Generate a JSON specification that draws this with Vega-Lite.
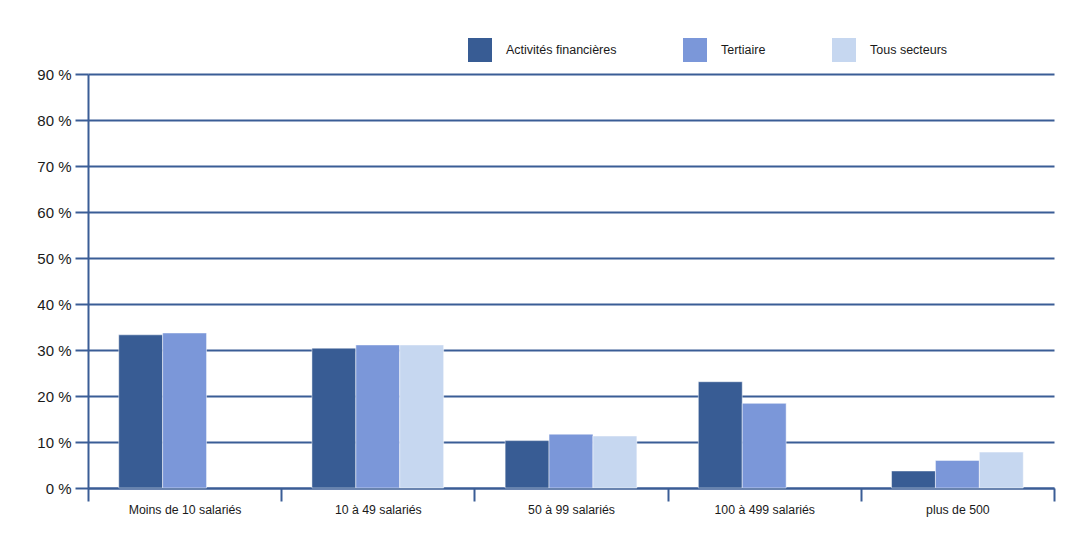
{
  "$schema": "https://vega.github.io/schema/vega-lite/v6.json",
  "width": 966,
  "height": 414,
  "autosize": {"type": "none"},
  "padding": {"left": 88, "top": 74, "right": 33, "bottom": 58},
  "background": "white",
  "config": {"font": "Liberation Sans", "view": {"stroke": null}},
  "data": {
    "values": [
      {"taille": "Moins de 10 salariés", "secteur": "Activités financières", "valeur": 33.3},
      {"taille": "Moins de 10 salariés", "secteur": "Tertiaire", "valeur": 33.7},
      {"taille": "10 à 49 salariés", "secteur": "Activités financières", "valeur": 30.4},
      {"taille": "10 à 49 salariés", "secteur": "Tertiaire", "valeur": 31.1},
      {"taille": "10 à 49 salariés", "secteur": "Tous secteurs", "valeur": 31.1},
      {"taille": "50 à 99 salariés", "secteur": "Activités financières", "valeur": 10.3},
      {"taille": "50 à 99 salariés", "secteur": "Tertiaire", "valeur": 11.7},
      {"taille": "50 à 99 salariés", "secteur": "Tous secteurs", "valeur": 11.3},
      {"taille": "100 à 499 salariés", "secteur": "Activités financières", "valeur": 23.1},
      {"taille": "100 à 499 salariés", "secteur": "Tertiaire", "valeur": 18.4},
      {"taille": "plus de 500", "secteur": "Activités financières", "valeur": 3.7},
      {"taille": "plus de 500", "secteur": "Tertiaire", "valeur": 6.0},
      {"taille": "plus de 500", "secteur": "Tous secteurs", "valeur": 7.8}
    ]
  },
  "mark": {"type": "bar", "stroke": "#ffffff", "strokeWidth": 0.8, "strokeOpacity": 0.6},
  "encoding": {
    "x": {
      "field": "taille",
      "type": "nominal",
      "sort": ["Moins de 10 salariés", "10 à 49 salariés", "50 à 99 salariés", "100 à 499 salariés", "plus de 500"],
      "scale": {"paddingInner": 0, "paddingOuter": 0},
      "axis": {
        "title": null,
        "labelAngle": 0,
        "tickBand": "extent",
        "tickSize": 13,
        "tickWidth": 2,
        "tickColor": "#3A5D96",
        "domainColor": "#3A5D96",
        "domainWidth": 2,
        "labelFontSize": 12.3,
        "labelColor": "#1a1a1a",
        "labelPadding": 2,
        "grid": false
      }
    },
    "xOffset": {
      "field": "secteur",
      "type": "nominal",
      "sort": ["Activités financières", "Tertiaire", "Tous secteurs"],
      "scale": {"paddingInner": 0, "paddingOuter": 0.7}
    },
    "y": {
      "field": "valeur",
      "type": "quantitative",
      "scale": {"domain": [0, 90], "nice": false},
      "axis": {
        "title": null,
        "values": [0, 10, 20, 30, 40, 50, 60, 70, 80, 90],
        "labelExpr": "datum.value + ' %'",
        "grid": true,
        "gridColor": "#3A5D96",
        "gridWidth": 2,
        "gridOpacity": 1,
        "tickSize": 13,
        "tickWidth": 2,
        "tickColor": "#3A5D96",
        "domainColor": "#3A5D96",
        "domainWidth": 2,
        "labelFontSize": 15,
        "labelColor": "#1a1a1a",
        "labelPadding": 4
      }
    },
    "color": {
      "field": "secteur",
      "type": "nominal",
      "scale": {
        "domain": ["Activités financières", "Tertiaire", "Tous secteurs"],
        "range": ["#385C94", "#7B97D9", "#C6D7F0"]
      },
      "legend": {
        "title": null,
        "orient": "none",
        "legendX": 380,
        "legendY": -36,
        "direction": "horizontal",
        "columns": 3,
        "symbolType": "square",
        "symbolSize": 576,
        "symbolStrokeWidth": 0,
        "symbolOpacity": 1,
        "labelFontSize": 12.5,
        "labelColor": "#1a1a1a",
        "labelOffset": 14,
        "columnPadding": 66
      }
    }
  }
}
